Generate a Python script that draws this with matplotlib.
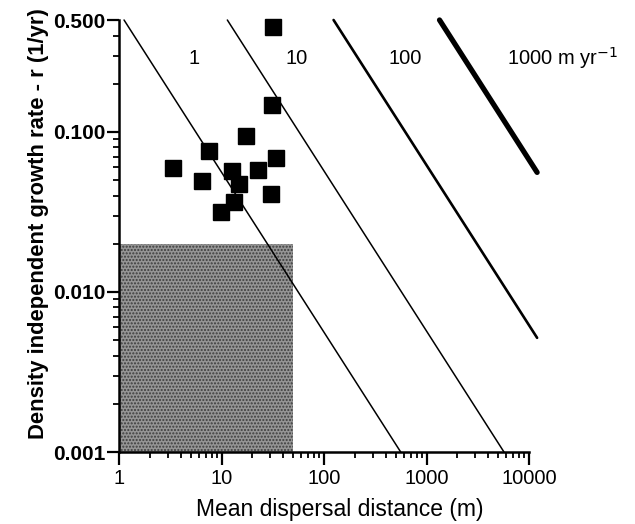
import matplotlib
matplotlib.use("Agg")
import matplotlib.pyplot as plt
import numpy as np
from matplotlib.ticker import FixedLocator, LogLocator, NullFormatter, FixedFormatter

plt.rcParams['font.family'] = ['Liberation Sans', 'DejaVu Sans']

# data
dispersal = [31.8, 31.3, 17.5, 7.6, 3.35, 6.5, 12.7, 14.9, 22.7, 34.4, 30.6, 13.1, 9.8]
growth = [0.454, 0.147, 0.094, 0.076, 0.0597, 0.0493, 0.057, 0.047, 0.058, 0.069, 0.041, 0.0366, 0.0315]
speed_labels = ["1", "10", "100", "1000 m yr$^{-1}$"]
speed_k = [0.56, 5.7, 62, 670]          # r * D constant along each speed line
speed_lw = [1.1, 1.1, 1.9, 3.8]
shade_x = [1, 50]
shade_y = [0.001, 0.02]
ytick_vals = [0.001, 0.01, 0.1, 0.5]
ytick_labels = ["0.001", "0.010", "0.100", "0.500"]
xtick_vals = [1, 10, 100, 1000, 10000]
xtick_labels = ["1", "10", "100", "1000", "10000"]

fig = plt.figure(figsize=(6.35, 5.24), dpi=100)
ax = fig.add_axes([119/635, 1-452/524, (529-119)/635, (452-20)/524])
ax.set_xscale('log')
ax.set_yscale('log')
ax.set_xlim(1, 10000)
ax.set_ylim(0.001, 0.5)

# shaded region
ax.fill_between(shade_x, shade_y[0], shade_y[1], facecolor='#959595',
                hatch='.....', edgecolor='#3c3c3c', linewidth=0, zorder=1)

# speed lines r = k / D
for k, lw in zip(speed_k, speed_lw):
    d0 = k / 0.5
    d1 = min(k / 0.001, 12000)
    d = np.array([d0, d1])
    ax.plot(d, k / d, color='black', lw=lw, solid_capstyle='round', clip_on=False, zorder=2)

text_pos_x = [5.35, 53.5, 626, 6100]
text_ha = ['center', 'center', 'center', 'left']
for lab, x, ha in zip(speed_labels, text_pos_x, text_ha):
    ax.text(x, 0.289, lab, fontsize=14.5, ha=ha, va='center')

ax.plot(dispersal, growth, 's', color='black', markersize=11.5, zorder=3, clip_on=False)

for s in ['top', 'right']:
    ax.spines[s].set_visible(False)
for s in ['left', 'bottom']:
    ax.spines[s].set_linewidth(1.8)

ax.yaxis.set_major_locator(FixedLocator(ytick_vals))
ax.yaxis.set_major_formatter(FixedFormatter(ytick_labels))
ax.yaxis.set_minor_locator(LogLocator(base=10, subs=np.arange(2, 10)))
ax.yaxis.set_minor_formatter(NullFormatter())
ax.xaxis.set_major_locator(FixedLocator(xtick_vals))
ax.xaxis.set_major_formatter(FixedFormatter(xtick_labels))
ax.xaxis.set_minor_locator(LogLocator(base=10, subs=np.arange(2, 10)))
ax.xaxis.set_minor_formatter(NullFormatter())

ax.tick_params(axis='both', which='major', length=9, width=1.6, direction='out')
ax.tick_params(axis='both', which='minor', length=4, width=1.3, direction='out')
ax.tick_params(axis='y', which='major', pad=1, labelsize=15)
ax.tick_params(axis='x', which='major', pad=3, labelsize=14.5)
for t in ax.get_yticklabels():
    t.set_fontweight('bold')

ax.set_xlabel("Mean dispersal distance (m)", fontsize=16.5, va='top')
ax.xaxis.set_label_coords(0.538, -0.106)
ax.set_ylabel("Density independent growth rate - r (1/yr)", fontsize=15.8,
              fontweight='bold')
ax.yaxis.set_label_coords(-0.171, 0.528)

fig.savefig("out.png", dpi=100)
